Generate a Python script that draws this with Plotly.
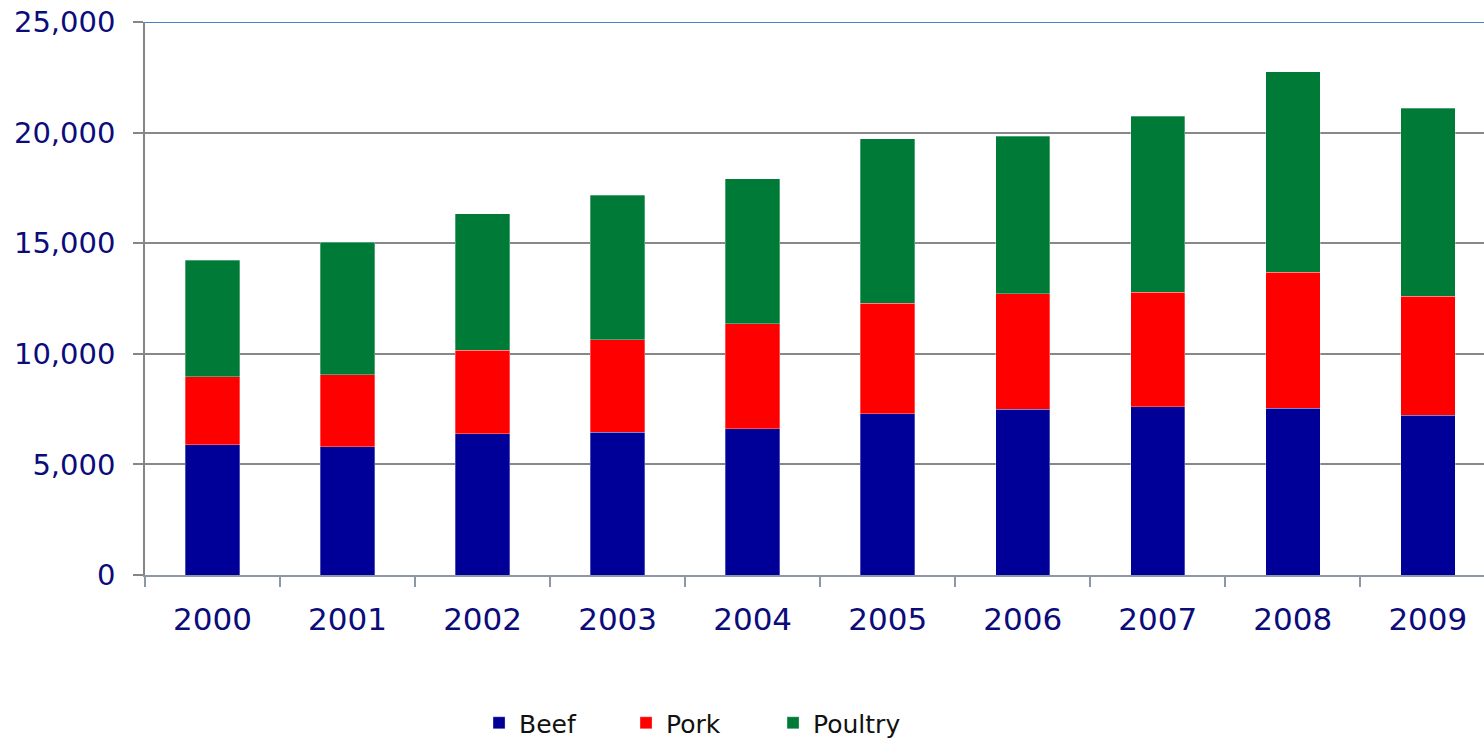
import plotly.graph_objects as go

# Meat production by year, stacked by type
years = ["2000", "2001", "2002", "2003", "2004", "2005", "2006", "2007", "2008", "2009"]
beef = [5880, 5800, 6390, 6450, 6620, 7280, 7490, 7610, 7540, 7220]
pork = [3090, 3250, 3760, 4190, 4730, 5010, 5230, 5180, 6150, 5380]
poultry = [5260, 6000, 6180, 6520, 6560, 7430, 7120, 7960, 9070, 8490]

y_ticks = [0, 5000, 10000, 15000, 20000, 25000]

series = [
    ("Beef", beef, "#000099"),
    ("Pork", pork, "#FF0000"),
    ("Poultry", poultry, "#007A37"),
]

fig = go.Figure()
for name, vals, color in series:
    fig.add_trace(go.Bar(
        x=years, y=vals, name=name,
        marker=dict(color=color, line=dict(width=0.6, color="rgba(255,255,255,0.5)")),
    ))

axis_font = dict(family="DejaVu Sans", color="#0B0B7A")

fig.update_layout(
    width=1484, height=738, autosize=False,
    margin=dict(l=145, r=0, t=22, b=163, autoexpand=False),
    barmode="stack", bargap=0.597,
    plot_bgcolor="white", paper_bgcolor="white",
    showlegend=True,
    legend=dict(
        orientation="h",
        xref="container", x=0.3228, xanchor="left",
        yref="container", y=0.0203, yanchor="middle",
        font=dict(family="DejaVu Sans", size=25, color="#111111"),
        entrywidthmode="pixels", entrywidth=102,
        traceorder="normal", itemclick=False,
    ),
    xaxis=dict(
        type="category", range=[-0.5, 9.416],
        tickfont=dict(size=31, **axis_font),
        ticks="outside", ticklen=10, tickwidth=1.5, tickcolor="#8E97A6",
        tickson="boundaries",
        showline=True, linecolor="#8E97A6", linewidth=2,
        showgrid=False, ticklabelstandoff=16,
    ),
    yaxis=dict(
        range=[0, 25000], tickvals=y_ticks, tickformat=",",
        tickfont=dict(size=29, **axis_font),
        ticks="outside", ticklen=10, tickwidth=1.5, tickcolor="#868686",
        showline=True, linecolor="#868686", linewidth=1.5,
        showgrid=True, gridcolor="#888888", gridwidth=1.5,
        zeroline=False, ticklabelstandoff=12,
    ),
    shapes=[dict(
        type="line", xref="paper", yref="y", x0=0, x1=1, y0=25000, y1=25000,
        line=dict(color="#4F81BD", width=2), layer="above",
    )],
)

fig.write_html("out.html")
